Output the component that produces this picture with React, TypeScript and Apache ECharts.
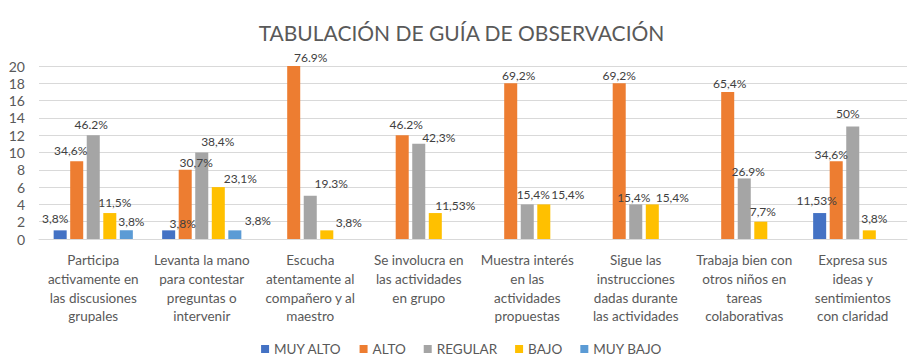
import React, { useEffect, useRef } from "react";
import * as echarts from "echarts";

const categories = [
  "Participa\nactivamente en\nlas discusiones\ngrupales",
  "Levanta la mano\npara contestar\npreguntas o\nintervenir",
  "Escucha\natentamente al\ncompañero y al\nmaestro",
  "Se involucra en\nlas actividades\nen grupo",
  "Muestra interés\nen las\nactividades\npropuestas",
  "Sigue las\ninstrucciones\ndadas durante\nlas actividades",
  "Trabaja bien con\notros niños en\ntareas\ncolaborativas",
  "Expresa sus\nideas y\nsentimientos\ncon claridad",
];

const seriesNames = ["MUY ALTO", "ALTO", "REGULAR", "BAJO", "MUY BAJO"];
const colors = ["#4472C4", "#ED7D31", "#A5A5A5", "#FFC000", "#5B9BD5"];

const muyAlto = [1, 1, 0, 0, 0, 0, 0, 3];
const alto = [9, 8, 20, 12, 18, 18, 17, 9];
const regular = [12, 10, 5, 11, 4, 4, 7, 13];
const bajo = [3, 6, 1, 3, 4, 4, 2, 1];
const muyBajo = [1, 1, 0, 0, 0, 0, 0, 0];

const muyAltoLabels = ["3,8%", "3,8%", "", "", "", "", "", "11,53%"];
const altoLabels = ["34,6%", "30,7%", "76.9%", "46.2%", "69,2%", "69,2%", "65,4%", "34,6%"];
const regularLabels = ["46.2%", "38,4%", "19.3%", "42,3%", "15,4%", "15,4%", "26.9%", "50%"];
const bajoLabels = ["11,5%", "23,1%", "3,8%", "11,53%", "15,4%", "15,4%", "7,7%", "3,8%"];
const muyBajoLabels = ["3,8%", "3,8%", "", "", "", "", "", ""];

const yTicks = { min: 0, max: 20, interval: 2 };

// label placement tweaks (styling, in px) as in the original Excel chart
const labelShift: [number, number][][] = [
  [[-5, -1], [14, 4], [0, 0], [0, 0], [0, 0], [0, 0], [0, 0], [-3, -2]],
  [[-6, 0], [11, 4], [17, 2], [4, 0], [8, 3], [0, 3], [2, 3], [-5, 4]],
  [[-2, 0], [16, 0], [21, -1], [20, 5], [6, 1], [-2, 4], [4, 4], [-5, -2]],
  [[5, 0], [22, 2], [22, 3], [20, 3], [24, 1], [20, 4], [2, 1], [5, -1]],
  [[5, 2], [23, 1], [0, 0], [0, 0], [0, 0], [0, 0], [0, 0], [0, 0]],
];

const FONT = "Lato";
const TEXT = "#595959";

export default function App() {
  const ref = useRef<HTMLDivElement>(null);
  useEffect(() => {
    if (!ref.current) return;
    const chart = echarts.init(ref.current, undefined, { renderer: "svg" });
    const values = [muyAlto, alto, regular, bajo, muyBajo];
    const labels = [muyAltoLabels, altoLabels, regularLabels, bajoLabels, muyBajoLabels];
    chart.setOption({
      animation: false,
      backgroundColor: "#ffffff",
      textStyle: { fontFamily: FONT },
      title: {
        text: "TABULACIÓN DE GUÍA DE OBSERVACIÓN",
        left: "center",
        top: 17,
        textStyle: { fontFamily: FONT, fontSize: 21, fontWeight: "normal", color: TEXT },
      },
      legend: {
        top: 342,
        left: "center",
        itemWidth: 8,
        itemHeight: 8,
        itemGap: 18,
        icon: "rect",
        padding: 0,
        textStyle: { fontFamily: FONT, fontSize: 13.5, lineHeight: 13, color: TEXT },
        data: seriesNames,
      },
      grid: { left: 39, right: 16, top: 66, bottom: 117, containLabel: false },
      xAxis: {
        type: "category",
        data: categories,
        axisLine: { lineStyle: { color: "#D9D9D9" } },
        axisTick: { show: false },
        axisLabel: {
          interval: 0,
          fontFamily: FONT,
          fontSize: 13.5,
          lineHeight: 18.7,
          color: TEXT,
          margin: 12,
        },
      },
      yAxis: {
        type: "value",
        min: yTicks.min,
        max: yTicks.max,
        interval: yTicks.interval,
        axisLine: { show: false },
        axisTick: { show: false },
        splitLine: { lineStyle: { color: "#D9D9D9" } },
        axisLabel: { fontFamily: FONT, fontSize: 14, color: TEXT, margin: 14 },
      },
      series: seriesNames.map((name, si) => ({
        name,
        type: "bar",
        barGap: "27%",
        barCategoryGap: "27%",
        itemStyle: { color: colors[si] },
        data: values[si].map((v, i) => ({
          value: v,
          label: {
            show: labels[si][i] !== "",
            formatter: labels[si][i],
            offset: labelShift[si][i],
          },
        })),
        label: {
          position: "top",
          distance: 5,
          fontFamily: FONT,
          fontSize: 12,
          color: "#404040",
        },
      })),
    });
    return () => chart.dispose();
  }, []);
  return (
    <div
      ref={ref}
      style={{ position: "fixed", left: 0, top: 0, width: 923, height: 356 }}
    />
  );
}
